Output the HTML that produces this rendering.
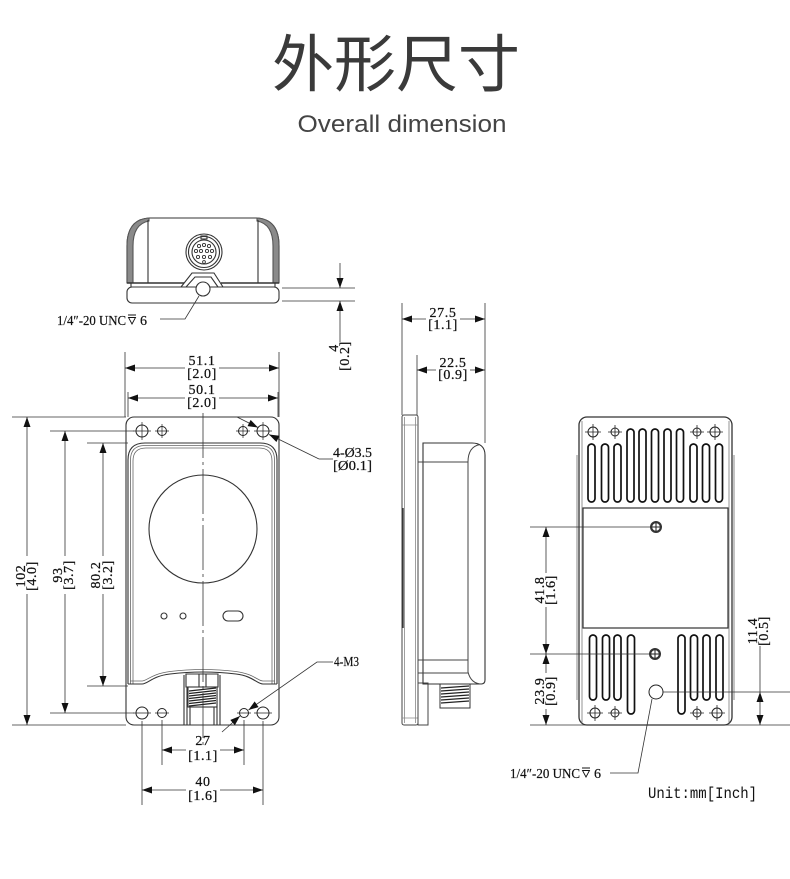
<!DOCTYPE html>
<html><head><meta charset="utf-8"><style>
html,body{margin:0;padding:0;background:#fff;}
svg{display:block;}
.d{font-family:"Liberation Serif",serif;font-size:14px;fill:#111;text-anchor:middle;letter-spacing:0.6px;stroke:#111;stroke-width:0.25;}
.l{font-family:"Liberation Serif",serif;font-size:14px;fill:#111;stroke:#111;stroke-width:0.2;}
</style></head><body>
<svg width="790" height="879" viewBox="0 0 790 879" xmlns="http://www.w3.org/2000/svg">
<defs>
<marker id="a" markerUnits="userSpaceOnUse" markerWidth="11" markerHeight="7" refX="10" refY="3.5" orient="auto"><path d="M0,0 L10,3.5 L0,7 z" fill="#111"/></marker>
</defs>
<rect width="790" height="879" fill="#fff"/>
<text x="396" y="86" text-anchor="middle" font-family="'Noto Sans CJK SC',sans-serif" font-size="62" fill="#3a3a3a">外形尺寸</text>
<text x="402" y="132" text-anchor="middle" font-family="'Liberation Sans',sans-serif" font-size="24" fill="#444" textLength="209" lengthAdjust="spacingAndGlyphs">Overall dimension</text>

<!-- ============ TOP VIEW ============ -->
<g fill="none" stroke="#333" stroke-width="1.1">
<path d="M127,283 L127,246 C127,229 134,219 149,218 L257,218 C272,219 279,229 279,246 L279,283"/>
<path d="M127,283 L127,246 C127,229 134,219 149,218 L149,221 C138,223 133,232 133,246 L133,283 Z" fill="#8a8a8a" stroke="#555"/>
<path d="M279,283 L279,246 C279,229 272,219 257,218 L257,221 C268,223 273,232 273,246 L273,283 Z" fill="#8a8a8a" stroke="#555"/>
<path d="M148,220 V283 M258,220 V283"/>
<path d="M127,283 H184 M221,283 H279" stroke-width="1.6"/>
<rect x="127" y="287" width="152" height="16" rx="5"/>
<path d="M131,283 V287 M275,283 V287" />
<path d="M181,287 L192,273 H214 L223,287"/>
<path d="M186,287 L195,277 H211 L218,287"/>
<circle cx="203" cy="289" r="7" fill="#fff"/>
<circle cx="204" cy="252" r="18"/>
<circle cx="204" cy="252" r="15.5"/>
<circle cx="204" cy="252" r="12"/>
<rect x="201" y="236" width="6" height="3"/>
</g>
<g fill="none" stroke="#333" stroke-width="0.9">
<circle cx="199" cy="246" r="1.6"/><circle cx="204" cy="245" r="1.6"/><circle cx="209" cy="246" r="1.6"/>
<circle cx="196" cy="251" r="1.6"/><circle cx="201" cy="251" r="1.6"/><circle cx="207" cy="251" r="1.6"/><circle cx="212" cy="251" r="1.6"/>
<circle cx="198" cy="257" r="1.6"/><circle cx="204" cy="257" r="1.6"/><circle cx="210" cy="257" r="1.6"/>
<circle cx="204" cy="262" r="1.4"/>
</g>
<g fill="none" stroke="#333" stroke-width="0.8">
<path d="M199,296 L185,319 H160"/>
<path d="M282,288 H355 M282,301 H355"/>
<path d="M340,263 V288" marker-end="url(#a)"/>
<path d="M340,342 V301" marker-end="url(#a)"/>
</g>
<text class="l" x="57" y="325" textLength="69" lengthAdjust="spacingAndGlyphs">1/4″-20 UNC</text>
<path d="M128,315 H136 M128.5,317.5 H135.5 L132,324 Z" fill="none" stroke="#111" stroke-width="0.9"/>
<text class="l" x="140" y="325">6</text>
<text class="d" transform="translate(338,348) rotate(-90)">4</text>
<text class="d" transform="translate(349,356) rotate(-90)">[0.2]</text>

<!-- ============ FRONT VIEW ============ -->
<g fill="none" stroke="#333" stroke-width="1.1">
<rect x="126" y="417" width="153" height="308" rx="8"/>
<path d="M128,684 V460 Q128,443 145,443 H260 Q277,443 277,460 V684"/>
<path d="M130.5,684 V460 Q130.5,445.5 145,445.5 H260 Q274.5,445.5 274.5,460 V684" stroke="#666" stroke-width="0.8"/>
<path d="M133,684 V461 Q133,448 146,448 H259 Q272,448 272,461 V684" stroke="#666" stroke-width="0.8"/>
<path d="M128,684 H142 C148,684 152,676 170,674 Q203,670 236,674 C253,676 257,684 263,684 H277"/>
<path d="M130,681 H142 C147,681 151,674 170,671.5 Q203,667.5 236,671.5 C254,674 258,681 263,681 H275" stroke="#666" stroke-width="0.8"/>
<circle cx="203" cy="529" r="54"/>
<circle cx="164" cy="616" r="3"/>
<circle cx="183" cy="616" r="3"/>
<rect x="223" y="611" width="20" height="10" rx="5"/>
<path d="M184,675 V725 M220,675 V725 M187,675 V725 M217,675 V725"/>
<path d="M186,674 H218 V687 H186 Z M199,674 V687 M206,674 V687" fill="#fff"/>
<rect x="188" y="687" width="29" height="20" fill="#fff"/>
<path d="M190,707 V725 M214,707 V725"/>
</g>
<path d="M189,691 L216,688 M189,693.5 L216,690.5 M189,696 L216,693 M189,698.5 L216,695.5 M189,701 L216,698 M189,703.5 L216,700.5 M189,706 L216,703" stroke="#222" stroke-width="1.2" fill="none"/>
<g fill="none" stroke="#222" stroke-width="1">
<circle cx="142" cy="431" r="6"/><circle cx="263" cy="431" r="6"/>
<circle cx="162" cy="431" r="4.5"/><circle cx="243" cy="431" r="4.5"/>
<circle cx="142" cy="713" r="6" fill="#fff"/><circle cx="263" cy="713" r="6" fill="#fff"/>
<circle cx="162" cy="713" r="4.5" fill="#fff"/><circle cx="244" cy="713" r="4.5" fill="#fff"/>
<path d="M133,431 H151 M142,422 V440 M155,431 H169 M162,424 V438 M236,431 H250 M243,424 V438 M254,431 H272 M263,422 V440" stroke-width="0.7"/>
<path d="M133,713 H151 M155,713 H169 M237,713 H251 M254,713 H272" stroke-width="0.7"/>
</g>
<path d="M203,413 V748" stroke="#333" stroke-width="0.8" stroke-dasharray="45 4 3 4" fill="none"/>
<g fill="none" stroke="#333" stroke-width="0.8">
<path d="M125,352 V417 M279,352 V417 M128,392 V417 M278,392 V417"/>
<path d="M185,368 H125" marker-end="url(#a)"/><path d="M219,368 H279" marker-end="url(#a)"/>
<path d="M185,398 H128" marker-end="url(#a)"/><path d="M219,398 H278" marker-end="url(#a)"/>
<path d="M12,417 H126 M12,725 H126 M50,431 H134 M50,713 H134 M87,443 H128 M87,686 H128"/>
<path d="M27,556 V417" marker-end="url(#a)"/><path d="M27,594 V725" marker-end="url(#a)"/>
<path d="M65,556 V431" marker-end="url(#a)"/><path d="M65,594 V713" marker-end="url(#a)"/>
<path d="M103,556 V443" marker-end="url(#a)"/><path d="M103,594 V686" marker-end="url(#a)"/>
<path d="M237,417 L258,427.5" marker-end="url(#a)"/>
<path d="M319,459 L269,434.5" marker-end="url(#a)"/>
<path d="M319,459 H333"/>
<path d="M333,662 H317 L248.5,710" marker-end="url(#a)"/>
<path d="M222,732 L240,716" marker-end="url(#a)"/>
<path d="M162,720 V765 M244,720 V765 M142,721 V805 M263,721 V805"/>
<path d="M186,750 H162" marker-end="url(#a)"/><path d="M220,750 H244" marker-end="url(#a)"/>
<path d="M186,790 H142" marker-end="url(#a)"/><path d="M220,790 H263" marker-end="url(#a)"/>
</g>
<text class="d" x="202" y="365">51.1</text>
<text class="d" x="202" y="378">[2.0]</text>
<text class="d" x="202" y="394">50.1</text>
<text class="d" x="202" y="407">[2.0]</text>
<text class="d" transform="translate(25,576) rotate(-90)">102</text>
<text class="d" transform="translate(36,576) rotate(-90)">[4.0]</text>
<text class="d" transform="translate(62,575) rotate(-90)">93</text>
<text class="d" transform="translate(73,575) rotate(-90)">[3.7]</text>
<text class="d" transform="translate(100,575) rotate(-90)">80.2</text>
<text class="d" transform="translate(112,575) rotate(-90)">[3.2]</text>
<text class="l" x="333" y="457" textLength="39" lengthAdjust="spacingAndGlyphs">4-Ø3.5</text>
<text class="l" x="333" y="470" textLength="39" lengthAdjust="spacingAndGlyphs">[Ø0.1]</text>
<text class="l" x="334" y="666" textLength="25" lengthAdjust="spacingAndGlyphs">4-M3</text>
<text class="d" x="203" y="745">27</text>
<text class="d" x="203" y="760">[1.1]</text>
<text class="d" x="203" y="786">40</text>
<text class="d" x="203" y="800">[1.6]</text>

<!-- ============ SIDE VIEW ============ -->
<g fill="none" stroke="#444" stroke-width="1">
<rect x="402" y="415" width="16" height="310" rx="2"/>
<path d="M404.5,417 V723 M415.5,417 V723 M402,425 H418 M402,718 H418" stroke="#888" stroke-width="0.8"/>
<path d="M403,508 V628" stroke="#333" stroke-width="1.4"/>
<rect x="418" y="683" width="10" height="42"/>
<path d="M423,443 H472 C480,443 485,447 485,455 V680 Q485,684 481,684 H423 Z" stroke="#333" stroke-width="1.1"/>
<path d="M418,447 V684 M418,462 H468 V672 M468,462 C468,452 472,446 480,444.5 M468,672 C470,680 475,684 482,684 M418,660 H468 M418,673 H468"/>
<path d="M440,684 V708 H470 V684" stroke="#333"/>
</g>
<path d="M441,688 L469,686 M441,691 L469,689 M441,694 L469,692 M441,697 L469,695 M441,700 L469,698 M441,703 L469,701" stroke="#222" stroke-width="1.2" fill="none"/>
<g fill="none" stroke="#333" stroke-width="0.8">
<path d="M402,303 V415 M485,303 V443 M417,355 V415"/>
<path d="M426,319 H402" marker-end="url(#a)"/><path d="M460,319 H485" marker-end="url(#a)"/>
<path d="M436,370 H417" marker-end="url(#a)"/><path d="M470,370 H485" marker-end="url(#a)"/>
</g>
<text class="d" x="443" y="317">27.5</text>
<text class="d" x="443" y="329">[1.1]</text>
<text class="d" x="453" y="367">22.5</text>
<text class="d" x="453" y="379">[0.9]</text>

<!-- ============ BACK VIEW ============ -->
<g fill="none" stroke="#333" stroke-width="1.3">
<rect x="579" y="417" width="153" height="308" rx="8"/>
<path d="M577,455 V700 M734,455 V700" stroke="#888" stroke-width="1"/>
<rect x="583" y="508" width="145" height="120" stroke-width="1.2"/>
<path d="M582,421 V723 M729,421 V723" stroke="#666" stroke-width="0.7"/>
</g>
<g fill="none" stroke="#111" stroke-width="1.7">
<rect x="588" y="444" width="7" height="58" rx="3.5"/>
<rect x="601.5" y="444" width="7" height="58" rx="3.5"/>
<rect x="614" y="444" width="7" height="58" rx="3.5"/>
<rect x="627" y="429" width="7" height="73" rx="3.5"/>
<rect x="639" y="429" width="7" height="73" rx="3.5"/>
<rect x="651.5" y="429" width="7" height="73" rx="3.5"/>
<rect x="664" y="429" width="7" height="73" rx="3.5"/>
<rect x="676.5" y="429" width="7" height="73" rx="3.5"/>
<rect x="690" y="444" width="7" height="58" rx="3.5"/>
<rect x="702.5" y="444" width="7" height="58" rx="3.5"/>
<rect x="715.5" y="444" width="7" height="58" rx="3.5"/>
<rect x="589.5" y="635" width="7" height="65" rx="3.5"/>
<rect x="602.5" y="635" width="7" height="65" rx="3.5"/>
<rect x="614" y="635" width="7" height="65" rx="3.5"/>
<rect x="627.5" y="635" width="7" height="79" rx="3.5"/>
<rect x="678" y="635" width="7" height="79" rx="3.5"/>
<rect x="690.5" y="635" width="7" height="65" rx="3.5"/>
<rect x="703" y="635" width="7" height="65" rx="3.5"/>
<rect x="716" y="635" width="7" height="65" rx="3.5"/>
</g>
<g fill="none" stroke="#222" stroke-width="1">
<circle cx="593" cy="432" r="5"/><circle cx="615" cy="432" r="4"/><circle cx="697" cy="432" r="4"/><circle cx="715" cy="432" r="5"/>
<path d="M585,432 H601 M593,424 V440 M608,432 H622 M615,425 V439 M690,432 H704 M697,425 V439 M707,432 H723 M715,424 V440" stroke-width="0.8"/>
<circle cx="595" cy="713" r="5"/><circle cx="615" cy="713" r="4"/><circle cx="697" cy="713" r="4"/><circle cx="717" cy="713" r="5"/>
<path d="M587,713 H603 M595,705 V721 M608,713 H622 M615,706 V720 M690,713 H704 M697,706 V720 M709,713 H725 M717,705 V721" stroke-width="0.8"/>
<circle cx="656" cy="692" r="7" fill="#fff"/>
</g>
<g>
<circle cx="656" cy="527" r="6" fill="#333"/><circle cx="656" cy="527" r="3.8" fill="#fff"/>
<path d="M652,527 H660 M656,523 V531" stroke="#222" stroke-width="1"/>
<circle cx="655" cy="654" r="6" fill="#333"/><circle cx="655" cy="654" r="3.8" fill="#fff"/>
<path d="M651,654 H659 M655,650 V658" stroke="#222" stroke-width="1"/>
</g>
<g fill="none" stroke="#333" stroke-width="0.8">
<path d="M530,527 H650 M530,654 H649 M530,725 H790 M663,692 H790"/>
<path d="M546,573 V527" marker-end="url(#a)"/><path d="M546,607 V654" marker-end="url(#a)"/>
<path d="M546,673 V654" marker-end="url(#a)"/><path d="M546,709 V725" marker-end="url(#a)"/>
<path d="M760,646 V692"/>
<path d="M760,708 V692" marker-end="url(#a)"/><path d="M760,708 V725" marker-end="url(#a)"/>
<path d="M652,699 L638,773 H610"/>
</g>
<text class="d" transform="translate(544,590) rotate(-90)">41.8</text>
<text class="d" transform="translate(555,590) rotate(-90)">[1.6]</text>
<text class="d" transform="translate(544,691) rotate(-90)">23.9</text>
<text class="d" transform="translate(555,691) rotate(-90)">[0.9]</text>
<text class="d" transform="translate(757,631) rotate(-90)">11.4</text>
<text class="d" transform="translate(768,631) rotate(-90)">[0.5]</text>
<text class="l" x="510" y="778" textLength="70" lengthAdjust="spacingAndGlyphs">1/4″-20 UNC</text>
<path d="M582,768 H590 M582.5,770.5 H589.5 L586,777 Z" fill="none" stroke="#111" stroke-width="0.9"/>
<text class="l" x="594" y="778">6</text>
<text x="648" y="798" font-family="'Liberation Mono',monospace" font-size="16" fill="#111" textLength="109" lengthAdjust="spacingAndGlyphs">Unit:mm[Inch]</text>
</svg>
</body></html>
